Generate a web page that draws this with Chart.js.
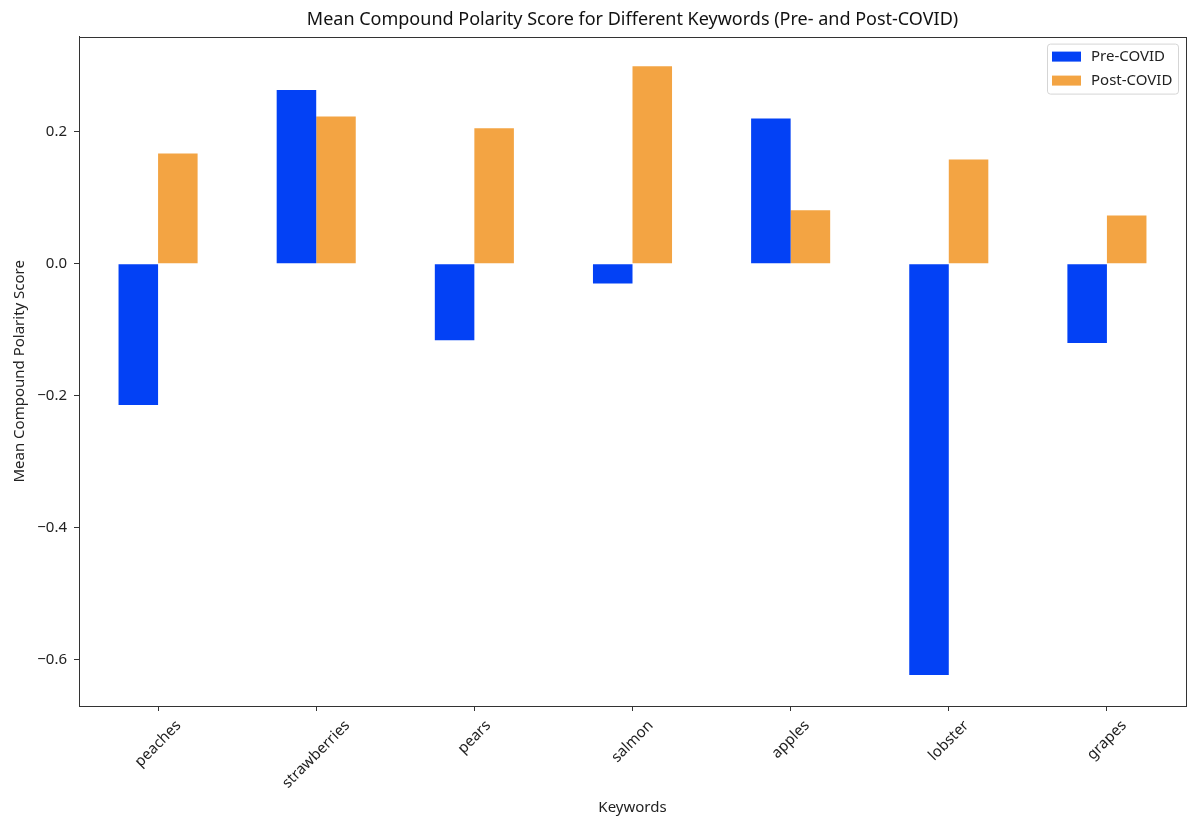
<!DOCTYPE html>
<html>
<head>
<meta charset="utf-8">
<script src="https://cdn.jsdelivr.net/npm/chart.js@4"></script>
<style>
  html, body { margin: 0; padding: 0; background: #fff; }
  #wrap { width: 1192px; height: 819px; }
</style>
</head>
<body>
<div id="wrap"><canvas id="polarityChart" width="1192" height="819"></canvas></div>
<script>
// --- data ---
const keywords = ['peaches', 'strawberries', 'pears', 'salmon', 'apples', 'lobster', 'grapes'];
const preCovid = [-0.214, 0.263, -0.116, -0.030, 0.220, -0.623, -0.120];
const postCovid = [0.167, 0.223, 0.205, 0.299, 0.081, 0.158, 0.073];
const yTicks = [-0.6, -0.4, -0.2, 0.0, 0.2];

const blue = '#0341f5';
const orange = '#f3a443';
const axisColor = '#333';
const fontFamily = '"Noto Sans", "Open Sans", sans-serif';

Chart.defaults.font.family = fontFamily;
Chart.defaults.color = '#222';

// frame, rotated x labels (centred on tick like matplotlib) and legend box
const decorations = {
    id: 'decorations',
    afterDraw(chart) {
        const ctx = chart.ctx;
        const area = chart.chartArea;
        const xScale = chart.scales.x;

        ctx.save();
        ctx.strokeStyle = axisColor;
        ctx.lineWidth = 1;
        ctx.strokeRect(Math.round(area.left) + 0.5, Math.round(area.top) + 0.5,
            Math.round(area.right - area.left), Math.round(area.bottom - area.top));

        // x tick labels at 45 degrees
        ctx.font = '15px ' + fontFamily;
        ctx.fillStyle = '#222';
        ctx.textAlign = 'center';
        ctx.textBaseline = 'middle';
        const s = Math.SQRT1_2;
        keywords.forEach((label, i) => {
            const x = xScale.getPixelForTick(i);
            const w = ctx.measureText(label).width;
            const boxH = (w + 12) * s;
            const cy = area.bottom + 13 + boxH / 2;
            ctx.save();
            ctx.translate(x, cy);
            ctx.rotate(-Math.PI / 4);
            ctx.fillText(label, 0, 0);
            ctx.restore();
        });

        // legend
        const lx = area.right - 139, ly = area.top + 7, lw = 131, lh = 50;
        ctx.beginPath();
        ctx.roundRect(lx + 0.5, ly + 0.5, lw, lh, 3);
        ctx.fillStyle = 'rgba(255,255,255,0.8)';
        ctx.fill();
        ctx.strokeStyle = '#d5d5d5';
        ctx.stroke();
        chart.data.datasets.forEach((ds, i) => {
            const yy = ly + 13 + i * 24;
            ctx.fillStyle = ds.backgroundColor;
            ctx.fillRect(lx + 5, yy - 5, 29, 10);
            ctx.fillStyle = '#222';
            ctx.textAlign = 'left';
            ctx.fillText(ds.label, lx + 44, yy);
        });
        ctx.restore();
    }
};

const ctx = document.getElementById('polarityChart').getContext('2d');
new Chart(ctx, {
    type: 'bar',
    data: {
        labels: keywords,
        datasets: [
            { label: 'Pre-COVID', data: preCovid, backgroundColor: blue, borderWidth: 0 },
            { label: 'Post-COVID', data: postCovid, backgroundColor: orange, borderWidth: 0 }
        ]
    },
    options: {
        responsive: false,
        animation: false,
        layout: { padding: { top: 0, right: 6, bottom: 0, left: 0 } },
        datasets: { bar: { categoryPercentage: 0.5, barPercentage: 1.0 } },
        plugins: {
            legend: { display: false },
            tooltip: { enabled: false },
            title: {
                display: true,
                fullSize: false,
                text: 'Mean Compound Polarity Score for Different Keywords (Pre- and Post-COVID)',
                font: { size: 18, weight: 'normal' },
                color: '#111',
                padding: { top: 9, bottom: 6 }
            }
        },
        scales: {
            x: {
                offset: true,
                grid: { display: true, offset: false, drawOnChartArea: false, drawTicks: true, tickLength: 5, color: axisColor },
                border: { display: true, color: axisColor },
                ticks: { color: 'transparent', autoSkip: false, maxRotation: 0, minRotation: 0 },
                title: { display: true, text: 'Keywords', font: { size: 15 }, color: '#222', padding: { top: 0, bottom: 2 } },
                afterFit: (scale) => { scale.height = 113; }
            },
            y: {
                min: -0.670,
                max: 0.344,
                afterBuildTicks: (scale) => { scale.ticks = yTicks.map(v => ({ value: v })); },
                grid: { display: true, drawOnChartArea: false, drawTicks: true, tickLength: 5, color: axisColor },
                border: { display: true, color: axisColor },
                ticks: {
                    font: { size: 15 },
                    color: '#222',
                    padding: 7,
                    callback: (v) => (v < 0 ? '\u2212' : '') + Math.abs(v).toFixed(1)
                },
                title: { display: true, text: 'Mean Compound Polarity Score', font: { size: 15 }, color: '#222', padding: { top: 11, bottom: 0 } },
                afterFit: (scale) => { scale.width = 79; }
            }
        }
    },
    plugins: [decorations]
});
</script>
</body>
</html>
